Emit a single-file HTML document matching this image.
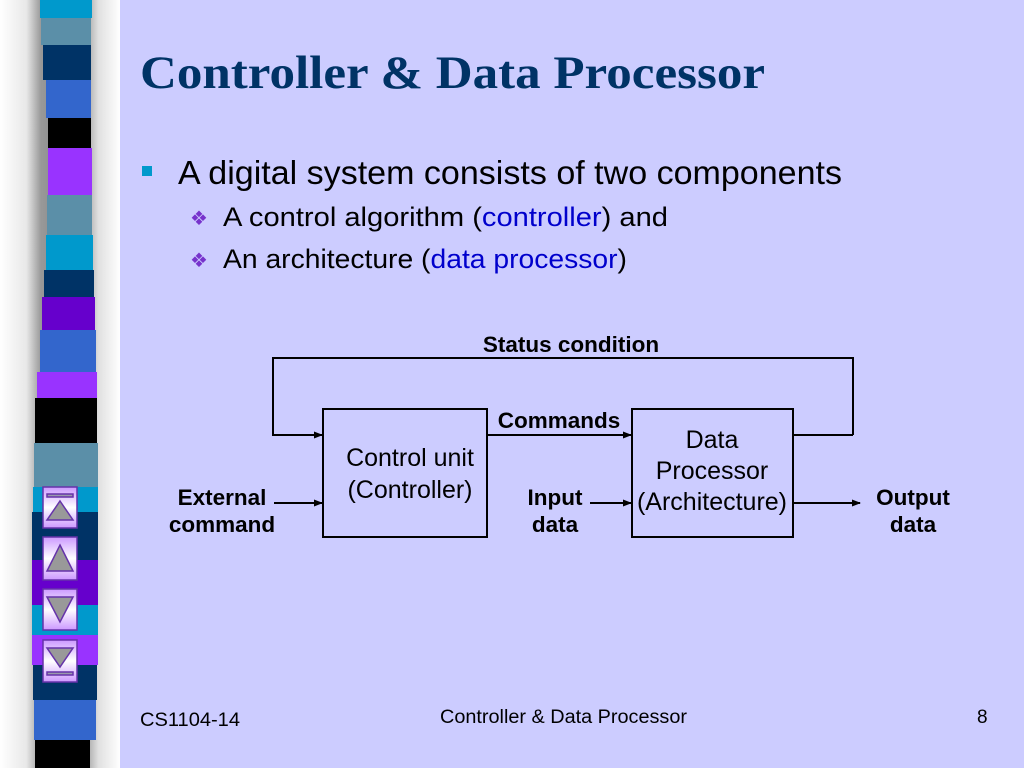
<!DOCTYPE html>
<html><head><meta charset="utf-8"><style>
html,body{margin:0;padding:0;width:1024px;height:768px;overflow:hidden;background:#ccccff}
svg{display:block}
.s{font-family:"Liberation Sans",Arial,sans-serif}
</style></head><body>
<svg width="1024" height="768" viewBox="0 0 1024 768" xmlns="http://www.w3.org/2000/svg">
<defs>
<linearGradient id="sh" x1="0" x2="1" y1="0" y2="0">
<stop offset="0" stop-color="#ffffff"/><stop offset="0.22" stop-color="#e8e8e8"/><stop offset="0.34" stop-color="#999"/><stop offset="0.5" stop-color="#888"/><stop offset="0.7" stop-color="#999"/><stop offset="0.82" stop-color="#e0e0e0"/><stop offset="1" stop-color="#ffffff"/>
</linearGradient>
<linearGradient id="btn" x1="0" x2="0" y1="0" y2="1">
<stop offset="0" stop-color="#cc99ff"/><stop offset="0.5" stop-color="#ffffff"/><stop offset="1" stop-color="#cc99ff"/>
</linearGradient>
<marker id="ar" markerWidth="9" markerHeight="8" refX="8" refY="4" orient="auto" markerUnits="userSpaceOnUse">
<path d="M0,0.5 L9,4 L0,7.5 Z" fill="#000"/></marker>
</defs>
<rect x="0" y="0" width="120" height="768" fill="url(#sh)"/>
<g>
<rect x="40" y="0" width="52" height="18" fill="#0099cc"/>
<rect x="41" y="18" width="50" height="27" fill="#5b8fa8"/>
<rect x="43" y="45" width="48" height="35" fill="#003366"/>
<rect x="46" y="80" width="45" height="38" fill="#3366cc"/>
<rect x="48" y="118" width="43" height="30" fill="#000"/>
<rect x="48" y="148" width="44" height="47" fill="#9933ff"/>
<rect x="47" y="195" width="45" height="40" fill="#5b8fa8"/>
<rect x="46" y="235" width="47" height="35" fill="#0099cc"/>
<rect x="44" y="270" width="50" height="27" fill="#003366"/>
<rect x="42" y="297" width="53" height="33" fill="#6600cc"/>
<rect x="40" y="330" width="56" height="42" fill="#3366cc"/>
<rect x="37" y="372" width="60" height="26" fill="#9933ff"/>
<rect x="35" y="398" width="62" height="45" fill="#000"/>
<rect x="34" y="443" width="64" height="44" fill="#5b8fa8"/>
<rect x="33" y="487" width="65" height="25" fill="#0099cc"/>
<rect x="32" y="512" width="66" height="48" fill="#003366"/>
<rect x="32" y="560" width="66" height="45" fill="#6600cc"/>
<rect x="32" y="605" width="66" height="30" fill="#0099cc"/>
<rect x="32" y="635" width="66" height="30" fill="#9933ff"/>
<rect x="33" y="665" width="64" height="35" fill="#003366"/>
<rect x="34" y="700" width="62" height="40" fill="#3366cc"/>
<rect x="35" y="740" width="55" height="28" fill="#000"/>
</g>
<rect x="120" y="0" width="904" height="768" fill="#ccccff"/>
<g stroke="#6633aa" stroke-width="1.5">
<rect x="43" y="487" width="34" height="41" fill="url(#btn)"/>
<rect x="43" y="537" width="34" height="43" fill="url(#btn)"/>
<rect x="43" y="589" width="34" height="41" fill="url(#btn)"/>
<rect x="43" y="640" width="34" height="42" fill="url(#btn)"/>
<rect x="47" y="494" width="26" height="3" fill="#9999aa"/>
<path d="M60,501 L73,520 L47,520 Z" fill="#999"/>
<path d="M60,545 L73,571 L47,571 Z" fill="#999"/>
<path d="M47,597 L73,597 L60,622 Z" fill="#999"/>
<path d="M47,648 L73,648 L60,667 Z" fill="#999"/>
<rect x="47" y="672" width="26" height="3" fill="#9999aa"/>
</g>
<text x="140" y="88" font-weight="bold" font-size="47" fill="#003366" textLength="625" lengthAdjust="spacingAndGlyphs" style="font-family:'Liberation Serif',serif">Controller &amp; Data Processor</text>
<rect x="142" y="166" width="10" height="10" fill="#0099cc"/>
<g class="s">
<text x="178" y="184" font-size="33" fill="#000" textLength="664" lengthAdjust="spacingAndGlyphs">A digital system consists of two components</text>
<text x="190" y="225" font-size="20" fill="#7733cc">❖</text>
<text x="223" y="226" font-size="27" fill="#000" textLength="445" lengthAdjust="spacingAndGlyphs">A control algorithm (<tspan fill="#0000cc">controller</tspan>) and</text>
<text x="190" y="267" font-size="20" fill="#7733cc">❖</text>
<text x="223" y="268" font-size="27" fill="#000" textLength="404" lengthAdjust="spacingAndGlyphs">An architecture (<tspan fill="#0000cc">data processor</tspan>)</text>
</g>
<g stroke="#000" stroke-width="2" fill="none">
<rect x="323" y="409" width="164" height="128"/>
<rect x="632" y="409" width="161" height="128"/>
<path d="M853,435 L853,358 L273,358 L273,435 L322,435" marker-end="url(#ar)"/>
<path d="M793,435 L853,435"/>
<path d="M487,435 L631,435" marker-end="url(#ar)"/>
<path d="M274,503 L322,503" marker-end="url(#ar)"/>
<path d="M590,503 L631,503" marker-end="url(#ar)"/>
<path d="M793,503 L860,503" marker-end="url(#ar)"/>
</g>
<g class="s" font-size="22.5" font-weight="bold" fill="#000" text-anchor="middle">
<text x="571" y="352">Status condition</text>
<text x="559" y="428">Commands</text>
<text x="222" y="505">External</text>
<text x="222" y="532">command</text>
<text x="555" y="505">Input</text>
<text x="555" y="532">data</text>
<text x="913" y="505">Output</text>
<text x="913" y="532">data</text>
</g>
<g class="s" font-size="25" fill="#000" text-anchor="middle">
<text x="410" y="466">Control unit</text>
<text x="410" y="498">(Controller)</text>
<text x="712" y="448">Data</text>
<text x="712" y="479">Processor</text>
<text x="712" y="510">(Architecture)</text>
</g>
<g class="s" font-size="19" fill="#000">
<text x="140" y="726" textLength="100" lengthAdjust="spacingAndGlyphs">CS1104-14</text>
<text x="440" y="723" textLength="247" lengthAdjust="spacingAndGlyphs">Controller &amp; Data Processor</text>
<text x="977" y="723">8</text>
</g>
</svg>
</body></html>
